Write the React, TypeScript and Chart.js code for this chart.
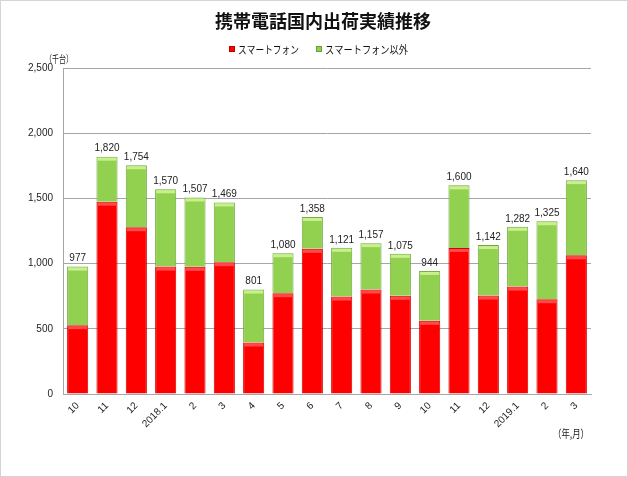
import React, { useEffect, useRef } from "react";
import { Chart, registerables } from "chart.js";

Chart.register(...registerables);

const categories = ["10", "11", "12", "2018.1", "2", "3", "4", "5", "6", "7", "8", "9", "10", "11", "12", "2019.1", "2", "3"];
const totals = [977, 1820, 1754, 1570, 1507, 1469, 801, 1080, 1358, 1121, 1157, 1075, 944, 1600, 1142, 1282, 1325, 1640];
const smartphone = [528, 1475, 1279, 977, 975, 1011, 395, 773, 1113, 747, 801, 753, 561, 1120, 755, 824, 727, 1064];
const others = totals.map((t, i) => t - smartphone[i]);
const yTicks = [0, 500, 1000, 1500, 2000, 2500];

const TITLE = "携帯電話国内出荷実績推移";
const SERIES = ["スマートフォン", "スマートフォン以外"];
const JP = '"Noto Sans CJK JP", sans-serif';
const NUM = '"Liberation Sans", Arial, sans-serif';

const fmt = (v: number) => v.toLocaleString("en-US");

const decorPlugin = {
  id: "decor",
  beforeDraw(chart: any) {
    const { ctx, width, height } = chart;
    ctx.save();
    ctx.fillStyle = "#ffffff";
    ctx.fillRect(0, 0, width, height);
    ctx.restore();
  },
  afterDatasetsDraw(chart: any) {
    const ctx = chart.ctx;
    ctx.save();
    // top bevel strips
    const lights = ["#ff4a4a", "#c8f08e"];
    [0, 1].forEach((di) => {
      const meta = chart.getDatasetMeta(di);
      meta.data.forEach((el: any) => {
        const w = el.width;
        const top = Math.min(el.y, el.base);
        ctx.fillStyle = lights[di];
        ctx.fillRect(el.x - w / 2 + 1, top + 1, w - 2, 3);
      });
    });
    // totals
    const metaTop = chart.getDatasetMeta(1);
    ctx.fillStyle = "#222222";
    ctx.font = `10px ${NUM}`;
    ctx.textAlign = "center";
    ctx.textBaseline = "bottom";
    metaTop.data.forEach((el: any, i: number) => {
      ctx.fillText(fmt(totals[i]), el.x, el.y - 3);
    });
    ctx.restore();
  },
  afterDraw(chart: any) {
    const { ctx, width, height } = chart;
    ctx.save();
    // title
    ctx.fillStyle = "#111111";
    ctx.font = `bold 18px ${JP}`;
    ctx.textAlign = "center";
    ctx.textBaseline = "middle";
    ctx.fillText(TITLE, 323, 21, 224);
    // legend
    ctx.font = `11px ${JP}`;
    ctx.textAlign = "left";
    const items = [
      { x: 229, color: "#ff0000", border: "#c00000", text: SERIES[0], w: 61 },
      { x: 316, color: "#92d050", border: "#6a9a3a", text: SERIES[1], w: 83 },
    ];
    items.forEach((it) => {
      ctx.fillStyle = it.color;
      ctx.fillRect(it.x, 46, 6, 6);
      ctx.strokeStyle = it.border;
      ctx.lineWidth = 1;
      ctx.strokeRect(it.x + 0.5, 46.5, 5, 5);
      ctx.fillStyle = "#111111";
      ctx.fillText(it.text, it.x + 9, 50, it.w);
    });
    // unit labels
    ctx.font = `10px ${JP}`;
    ctx.textAlign = "center";
    ctx.fillStyle = "#222222";
    ctx.fillText("（千台）", 59, 59, 28);
    ctx.font = `11px ${JP}`;
    ctx.fillText("（年,月）", 571, 434, 36);
    // outer border
    ctx.strokeStyle = "#d4d4d4";
    ctx.lineWidth = 1;
    ctx.strokeRect(0.5, 0.5, width - 1, height - 1);
    ctx.restore();
  },
};

export default function App() {
  const ref = useRef<HTMLCanvasElement>(null);
  useEffect(() => {
    if (!ref.current) return;
    const chart = new Chart(ref.current, {
      type: "bar",
      data: {
        labels: categories,
        datasets: [
          {
            label: SERIES[0],
            data: smartphone,
            backgroundColor: "#ff0000",
            borderColor: "#d00000",
            borderWidth: 1,
            barPercentage: 0.72,
            categoryPercentage: 1,
          },
          {
            label: SERIES[1],
            data: others,
            backgroundColor: "#92d050",
            borderColor: "#72a840",
            borderWidth: 1,
            barPercentage: 0.72,
            categoryPercentage: 1,
          },
        ],
      },
      options: {
        responsive: false,
        animation: false,
        layout: { padding: { left: 0, right: 37, top: 68, bottom: 0 } },
        plugins: {
          legend: { display: false },
          title: { display: false },
          tooltip: { enabled: false },
        },
        scales: {
          x: {
            stacked: true,
            grid: { display: false, drawTicks: false },
            border: { display: true, color: "#a6a6a6", width: 1 },
            ticks: {
              minRotation: 45,
              maxRotation: 45,
              autoSkip: false,
              padding: 6,
              color: "#222222",
              font: { size: 10, family: NUM },
            },
            afterFit: (s: any) => {
              s.height = 477 - 394;
            },
          },
          y: {
            stacked: true,
            min: 0,
            max: 2500,
            afterBuildTicks: (s: any) => {
              s.ticks = yTicks.map((v) => ({ value: v }));
            },
            grid: { color: "#a6a6a6", drawTicks: false, lineWidth: 1 },
            border: { display: true, color: "#a6a6a6", width: 1 },
            ticks: {
              padding: 10,
              color: "#222222",
              font: { size: 10, family: NUM },
              callback: (v: any) => fmt(Number(v)),
            },
            afterFit: (s: any) => {
              s.width = 63;
            },
          },
        },
      },
      plugins: [decorPlugin],
    });
    return () => chart.destroy();
  }, []);
  return (
    <div style={{ position: "absolute", left: 0, top: 0, width: 628, height: 477 }}>
      <canvas ref={ref} width={628} height={477} style={{ width: 628, height: 477 }} />
    </div>
  );
}
